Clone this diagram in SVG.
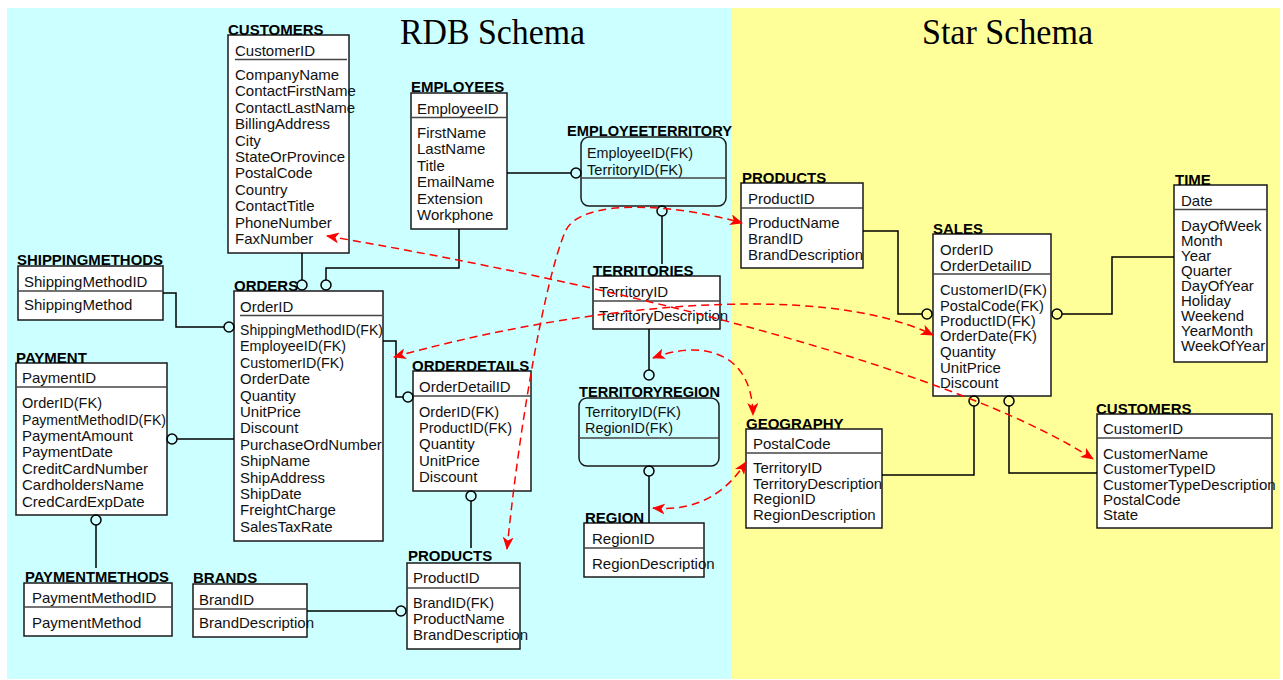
<svg xmlns="http://www.w3.org/2000/svg" width="1283" height="680" viewBox="0 0 1283 680">
  <defs>
    <style>
      .box { fill: #ffffff; stroke: #1a1a1a; stroke-width: 1.5; }
      .rbox { fill: none; stroke: #1a1a1a; stroke-width: 1.5; }
      .div { stroke: #444444; stroke-width: 1.5; }
      .name { font-family: "Liberation Sans", Arial, sans-serif; font-size: 15px; font-weight: bold; fill: #000000; }
      .attr { font-family: "Liberation Sans", Arial, sans-serif; font-size: 15px; fill: #111111; }
      .title { font-family: "Liberation Serif", "Times New Roman", serif; font-size: 36px; fill: #000000; }
      .rel { fill: none; stroke: #000000; stroke-width: 1.5; }
      .opt { fill: none; stroke: #000000; stroke-width: 1.5; }
      .map { fill: none; stroke: #ff0000; stroke-width: 1.5; stroke-dasharray: 8 5; marker-start: url(#arrow); marker-end: url(#arrow); }
    </style>
    <marker id="arrow" viewBox="0 0 13 11" refX="12" refY="5.5" markerWidth="13" markerHeight="11" markerUnits="userSpaceOnUse" orient="auto-start-reverse">
      <path d="M0,0 L13,5.5 L0,11 L3.5,5.5 z" fill="#ff0000"/>
    </marker>
  </defs>

  <!-- background panels -->
  <rect x="0" y="0" width="1283" height="680" fill="#ffffff"/>
  <rect x="7" y="8" width="725" height="671" fill="#ccffff"/>
  <rect x="732" y="8" width="548" height="671" fill="#ffff99"/>
  <text class="title" x="400" y="44" textLength="185" lengthAdjust="spacingAndGlyphs">RDB Schema</text>
  <text class="title" x="922" y="44" textLength="171" lengthAdjust="spacingAndGlyphs">Star Schema</text>

  <!-- relational schema entities -->
  <g id="rdb-customers">
    <rect class="box" x="228" y="35" width="121" height="218"/>
    <text class="name" x="228" y="35">CUSTOMERS</text>
    <text class="attr" x="235" y="56">CustomerID</text>
    <line class="div" x1="235" y1="59.5" x2="347" y2="59.5"/>
    <text class="attr" x="235" y="80">CompanyName</text>
    <text class="attr" x="235" y="96.4">ContactFirstName</text>
    <text class="attr" x="235" y="112.8">ContactLastName</text>
    <text class="attr" x="235" y="129.2">BillingAddress</text>
    <text class="attr" x="235" y="145.6">City</text>
    <text class="attr" x="235" y="162">StateOrProvince</text>
    <text class="attr" x="235" y="178.4">PostalCode</text>
    <text class="attr" x="235" y="194.8">Country</text>
    <text class="attr" x="235" y="211.2">ContactTitle</text>
    <text class="attr" x="235" y="227.6">PhoneNumber</text>
    <text class="attr" x="235" y="244">FaxNumber</text>
  </g>

  <g id="rdb-shippingmethods">
    <rect class="box" x="18" y="266" width="145" height="54"/>
    <text class="name" x="17" y="265" textLength="146" lengthAdjust="spacingAndGlyphs">SHIPPINGMETHODS</text>
    <text class="attr" x="24" y="287">ShippingMethodID</text>
    <line class="div" x1="18" y1="291" x2="163" y2="291"/>
    <text class="attr" x="24" y="310">ShippingMethod</text>
  </g>

  <g id="rdb-payment">
    <rect class="box" x="16" y="363" width="151" height="152"/>
    <text class="name" x="16" y="363">PAYMENT</text>
    <text class="attr" x="22" y="383">PaymentID</text>
    <line class="div" x1="16" y1="387" x2="167" y2="387"/>
    <text class="attr" x="22" y="408" textLength="80" lengthAdjust="spacingAndGlyphs">OrderID(FK)</text>
    <text class="attr" x="22" y="425" textLength="144" lengthAdjust="spacingAndGlyphs">PaymentMethodID(FK)</text>
    <text class="attr" x="22" y="441">PaymentAmount</text>
    <text class="attr" x="22" y="457">PaymentDate</text>
    <text class="attr" x="22" y="474">CreditCardNumber</text>
    <text class="attr" x="22" y="490">CardholdersName</text>
    <text class="attr" x="22" y="507">CredCardExpDate</text>
  </g>

  <g id="rdb-paymentmethods">
    <rect class="box" x="24" y="583" width="148" height="53"/>
    <text class="name" x="25" y="582" textLength="144" lengthAdjust="spacingAndGlyphs">PAYMENTMETHODS</text>
    <text class="attr" x="32" y="603">PaymentMethodID</text>
    <line class="div" x1="24" y1="607" x2="172" y2="607"/>
    <text class="attr" x="32" y="628">PaymentMethod</text>
  </g>

  <g id="rdb-orders">
    <rect class="box" x="234" y="291" width="149" height="250"/>
    <text class="name" x="234" y="291">ORDERS</text>
    <text class="attr" x="240" y="312">OrderID</text>
    <line class="div" x1="240" y1="315.5" x2="382" y2="315.5"/>
    <text class="attr" x="240" y="335" textLength="143" lengthAdjust="spacingAndGlyphs">ShippingMethodID(FK)</text>
    <text class="attr" x="240" y="351.4" textLength="106" lengthAdjust="spacingAndGlyphs">EmployeeID(FK)</text>
    <text class="attr" x="240" y="367.8" textLength="104" lengthAdjust="spacingAndGlyphs">CustomerID(FK)</text>
    <text class="attr" x="240" y="384.2">OrderDate</text>
    <text class="attr" x="240" y="400.6">Quantity</text>
    <text class="attr" x="240" y="417">UnitPrice</text>
    <text class="attr" x="240" y="433.4">Discount</text>
    <text class="attr" x="240" y="449.8">PurchaseOrdNumber</text>
    <text class="attr" x="240" y="466.2">ShipName</text>
    <text class="attr" x="240" y="482.6">ShipAddress</text>
    <text class="attr" x="240" y="499">ShipDate</text>
    <text class="attr" x="240" y="515.4">FreightCharge</text>
    <text class="attr" x="240" y="531.8">SalesTaxRate</text>
  </g>

  <g id="rdb-employees">
    <rect class="box" x="411" y="93" width="96" height="136"/>
    <text class="name" x="411" y="92">EMPLOYEES</text>
    <text class="attr" x="417" y="114">EmployeeID</text>
    <line class="div" x1="411" y1="117.5" x2="507" y2="117.5"/>
    <text class="attr" x="417" y="138">FirstName</text>
    <text class="attr" x="417" y="154.4">LastName</text>
    <text class="attr" x="417" y="170.8">Title</text>
    <text class="attr" x="417" y="187.2">EmailName</text>
    <text class="attr" x="417" y="203.6">Extension</text>
    <text class="attr" x="417" y="220">Workphone</text>
  </g>

  <g id="rdb-employeeterritory">
    <rect class="rbox" x="581" y="137" width="145" height="69" rx="8"/>
    <text class="name" x="567" y="136" textLength="165" lengthAdjust="spacingAndGlyphs">EMPLOYEETERRITORY</text>
    <text class="attr" x="587" y="158" textLength="106" lengthAdjust="spacingAndGlyphs">EmployeeID(FK)</text>
    <text class="attr" x="587" y="175" textLength="96" lengthAdjust="spacingAndGlyphs">TerritoryID(FK)</text>
    <line class="div" x1="581" y1="178" x2="726" y2="178"/>
  </g>

  <g id="rdb-territories">
    <rect class="box" x="593" y="276" width="127" height="53"/>
    <text class="name" x="593" y="276">TERRITORIES</text>
    <text class="attr" x="599" y="297">TerritoryID</text>
    <line class="div" x1="593" y1="301" x2="720" y2="301"/>
    <text class="attr" x="599" y="321">TerritoryDescription</text>
  </g>

  <g id="rdb-territoryregion">
    <rect class="rbox" x="579" y="398" width="140" height="68" rx="8"/>
    <text class="name" x="579" y="397" textLength="141" lengthAdjust="spacingAndGlyphs">TERRITORYREGION</text>
    <text class="attr" x="585" y="417" textLength="96" lengthAdjust="spacingAndGlyphs">TerritoryID(FK)</text>
    <text class="attr" x="585" y="433" textLength="88" lengthAdjust="spacingAndGlyphs">RegionID(FK)</text>
    <line class="div" x1="579" y1="438" x2="719" y2="438"/>
  </g>

  <g id="rdb-region">
    <rect class="box" x="584" y="523" width="120" height="54"/>
    <text class="name" x="585" y="523">REGION</text>
    <text class="attr" x="592" y="544">RegionID</text>
    <line class="div" x1="584" y1="548" x2="704" y2="548"/>
    <text class="attr" x="592" y="569">RegionDescription</text>
  </g>

  <g id="rdb-orderdetails">
    <rect class="box" x="413" y="371" width="118" height="120"/>
    <text class="name" x="412" y="371">ORDERDETAILS</text>
    <text class="attr" x="419" y="392">OrderDetailID</text>
    <line class="div" x1="413" y1="396" x2="531" y2="396"/>
    <text class="attr" x="419" y="417" textLength="80" lengthAdjust="spacingAndGlyphs">OrderID(FK)</text>
    <text class="attr" x="419" y="433" textLength="93" lengthAdjust="spacingAndGlyphs">ProductID(FK)</text>
    <text class="attr" x="419" y="449">Quantity</text>
    <text class="attr" x="419" y="466">UnitPrice</text>
    <text class="attr" x="419" y="482">Discount</text>
  </g>

  <g id="rdb-products">
    <rect class="box" x="407" y="563" width="113" height="86"/>
    <text class="name" x="408" y="561">PRODUCTS</text>
    <text class="attr" x="413" y="583">ProductID</text>
    <line class="div" x1="407" y1="588" x2="520" y2="588"/>
    <text class="attr" x="413" y="608" textLength="81" lengthAdjust="spacingAndGlyphs">BrandID(FK)</text>
    <text class="attr" x="413" y="624">ProductName</text>
    <text class="attr" x="413" y="640">BrandDescription</text>
  </g>

  <g id="rdb-brands">
    <rect class="box" x="193" y="584" width="114" height="53"/>
    <text class="name" x="193" y="583">BRANDS</text>
    <text class="attr" x="199" y="605">BrandID</text>
    <line class="div" x1="193" y1="609" x2="307" y2="609"/>
    <text class="attr" x="199" y="628">BrandDescription</text>
  </g>

  <!-- star schema entities -->
  <g id="star-products">
    <rect class="box" x="741" y="183" width="122" height="85"/>
    <text class="name" x="742" y="183">PRODUCTS</text>
    <text class="attr" x="748" y="204">ProductID</text>
    <line class="div" x1="741" y1="208" x2="863" y2="208"/>
    <text class="attr" x="748" y="228">ProductName</text>
    <text class="attr" x="748" y="244">BrandID</text>
    <text class="attr" x="748" y="260">BrandDescription</text>
  </g>

  <g id="star-sales">
    <rect class="box" x="933" y="234" width="118" height="162"/>
    <text class="name" x="933" y="234">SALES</text>
    <text class="attr" x="940" y="255">OrderID</text>
    <text class="attr" x="940" y="271">OrderDetailID</text>
    <line class="div" x1="933" y1="274" x2="1051" y2="274"/>
    <text class="attr" x="940" y="295" textLength="107" lengthAdjust="spacingAndGlyphs">CustomerID(FK)</text>
    <text class="attr" x="940" y="310.5" textLength="104" lengthAdjust="spacingAndGlyphs">PostalCode(FK)</text>
    <text class="attr" x="940" y="326">ProductID(FK)</text>
    <text class="attr" x="940" y="341" textLength="97" lengthAdjust="spacingAndGlyphs">OrderDate(FK)</text>
    <text class="attr" x="940" y="357">Quantity</text>
    <text class="attr" x="940" y="372.5">UnitPrice</text>
    <text class="attr" x="940" y="388">Discount</text>
  </g>

  <g id="star-time">
    <rect class="box" x="1174" y="185" width="93" height="177"/>
    <text class="name" x="1175" y="185">TIME</text>
    <text class="attr" x="1181" y="206">Date</text>
    <line class="div" x1="1174" y1="209.5" x2="1267" y2="209.5"/>
    <text class="attr" x="1181" y="231">DayOfWeek</text>
    <text class="attr" x="1181" y="246">Month</text>
    <text class="attr" x="1181" y="261">Year</text>
    <text class="attr" x="1181" y="276">Quarter</text>
    <text class="attr" x="1181" y="291">DayOfYear</text>
    <text class="attr" x="1181" y="306">Holiday</text>
    <text class="attr" x="1181" y="321">Weekend</text>
    <text class="attr" x="1181" y="336">YearMonth</text>
    <text class="attr" x="1181" y="351">WeekOfYear</text>
  </g>

  <g id="star-geography">
    <rect class="box" x="746" y="429" width="136" height="99"/>
    <text class="name" x="746" y="429">GEOGRAPHY</text>
    <text class="attr" x="753" y="449">PostalCode</text>
    <line class="div" x1="746" y1="453" x2="882" y2="453"/>
    <text class="attr" x="753" y="473">TerritoryID</text>
    <text class="attr" x="753" y="488.5">TerritoryDescription</text>
    <text class="attr" x="753" y="504">RegionID</text>
    <text class="attr" x="753" y="519.5">RegionDescription</text>
  </g>

  <g id="star-customers">
    <rect class="box" x="1097" y="414" width="175" height="114"/>
    <text class="name" x="1096" y="414">CUSTOMERS</text>
    <text class="attr" x="1103" y="434">CustomerID</text>
    <line class="div" x1="1097" y1="438" x2="1272" y2="438"/>
    <text class="attr" x="1103" y="459">CustomerName</text>
    <text class="attr" x="1103" y="474">CustomerTypeID</text>
    <text class="attr" x="1103" y="490">CustomerTypeDescription</text>
    <text class="attr" x="1103" y="505">PostalCode</text>
    <text class="attr" x="1103" y="520">State</text>
  </g>

  <!-- relationships and schema mappings -->
  <g id="connectors">
    <g id="relationships">
      <path class="rel" d="M302,253 V280"/>
      <circle class="opt" cx="302" cy="285" r="5"/>
      <path class="rel" d="M459,229 V268 H326 V280"/>
      <circle class="opt" cx="326" cy="285" r="5"/>
      <path class="rel" d="M163,293 H176 V327 H224"/>
      <circle class="opt" cx="229" cy="327" r="5"/>
      <circle class="opt" cx="172" cy="439" r="5"/>
      <path class="rel" d="M177,439 H234"/>
      <circle class="opt" cx="96" cy="520" r="5"/>
      <path class="rel" d="M96,525 V568"/>
      <path class="rel" d="M507,173 H571"/>
      <circle class="opt" cx="576" cy="173" r="5"/>
      <circle class="opt" cx="662" cy="211" r="5"/>
      <path class="rel" d="M662,216 V264"/>
      <path class="rel" d="M649,329 V370"/>
      <circle class="opt" cx="649" cy="375" r="5"/>
      <circle class="opt" cx="649" cy="471" r="5"/>
      <path class="rel" d="M649,476 V523"/>
      <path class="rel" d="M383,341 H396 V397 H403"/>
      <circle class="opt" cx="408" cy="397" r="5"/>
      <circle class="opt" cx="471" cy="496" r="5"/>
      <path class="rel" d="M471,501 V548"/>
      <path class="rel" d="M307,611 H396"/>
      <circle class="opt" cx="401" cy="611" r="5"/>
      <path class="rel" d="M863,231 H898 V314 H922"/>
      <circle class="opt" cx="927" cy="314" r="5"/>
      <circle class="opt" cx="1057" cy="314" r="5"/>
      <path class="rel" d="M1062,314 H1112 V257 H1174"/>
      <circle class="opt" cx="974" cy="401" r="5"/>
      <path class="rel" d="M974,406 V475 H882"/>
      <circle class="opt" cx="1009" cy="401" r="5"/>
      <path class="rel" d="M1009,406 V473 H1097"/>
    </g>
    <g id="mappings">
      <path class="map" d="M507,549 C520,420 545,280 565,232 C580,196 680,205 742,223"/>
      <path class="map" d="M327,236 C700,300 980,385 1093,459"/>
      <path class="map" d="M394,357 C580,305 820,280 933,335"/>
      <path class="map" d="M653,358 C700,340 752,350 753,415"/>
      <path class="map" d="M653,508 C700,512 728,490 746,462"/>
    </g>
  </g>
</svg>
